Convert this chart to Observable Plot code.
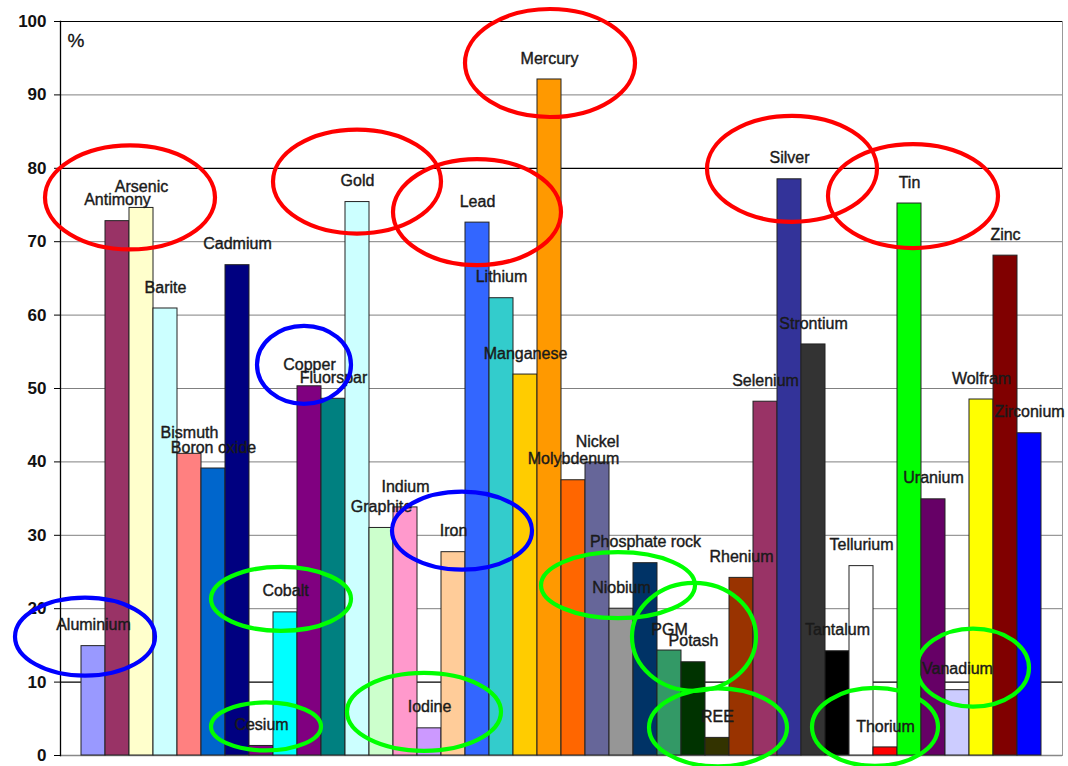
<!DOCTYPE html>
<html>
<head>
<meta charset="utf-8">
<script src="https://cdn.jsdelivr.net/npm/d3@7"></script>
<script src="https://cdn.jsdelivr.net/npm/@observablehq/plot@0.6"></script>
<style>
  body { margin: 0; background: #fff; }
  #chart svg { display: block; }
</style>
</head>
<body>
<div id="chart"></div>
<script>
// ---- data ----
const minerals = ["Aluminium","Antimony","Arsenic","Barite","Bismuth","Boron oxide","Cadmium","Cesium","Cobalt","Copper",
  "Fluorspar","Gold","Graphite","Indium","Iodine","Iron","Lead","Lithium","Manganese","Mercury",
  "Molybdenum","Nickel","Niobium","Phosphate rock","PGM","Potash","REE","Rhenium","Selenium","Silver",
  "Strontium","Tantalum","Tellurium","Thorium","Tin","Uranium","Vanadium","Wolfram","Zinc","Zirconium"];
const shares = [14.9, 72.8, 74.6, 60.9, 41.1, 39.1, 66.8, 1.3, 19.5, 50.3,
  48.6, 75.4, 31.0, 33.8, 3.7, 27.7, 72.6, 62.3, 51.9, 92.1,
  37.5, 39.9, 20.0, 26.2, 14.3, 12.7, 2.4, 24.2, 48.2, 78.5,
  56.0, 14.2, 25.8, 1.1, 75.2, 34.9, 8.9, 48.5, 68.1, 43.9];
const barColors = ["#9999FF","#993366","#FFFFCC","#CCFFFF","#FF8080","#0066CC","#000080","#800080","#00FFFF","#800080",
  "#008080","#CCFFFF","#CCFFCC","#FF99CC","#CC99FF","#FFCC99","#3366FF","#33CCCC","#FFCC00","#FF9900",
  "#FF6600","#666699","#969696","#003366","#339966","#003300","#333300","#993300","#993366","#333399",
  "#333333","#000000","#FFFFFF","#FF0000","#00FF00","#660066","#CCCCFF","#FFFF00","#800000","#0000FF"];
const yTicks = [0, 10, 20, 30, 40, 50, 60, 70, 80, 90, 100];
const greyGrid = [20, 30, 40, 50, 60, 70, 90];
const darkGrid = [10, 80, 100];
const unitLabel = ["%"];
// circled labels (annotation groups)
const redRinged = ["Arsenic","Gold","Lead","Mercury","Silver","Tin"];
const blueRinged = ["Aluminium","Copper","Iron"];
const greenRinged = ["Cesium","Cobalt","Iodine","Niobium","Potash","REE","Thorium","Vanadium"];

const rows = minerals.map((m, i) => ({mineral: m, share: shares[i], color: barColors[i]}));
const shareOf = Object.fromEntries(rows.map(d => [d.mineral, d.share]));

// ellipse layout relative to the circled label (pixels)
const ringLayout = {
  Arsenic:   {dx: -11, dy: 11, rx: 85, ry: 52},
  Gold:      {dx: 0, dy: 1, rx: 84, ry: 52},
  Lead:      {dx: 0, dy: 11, rx: 84, ry: 53},
  Mercury:   {dx: 1, dy: 5, rx: 85, ry: 54},
  Silver:    {dx: 3, dy: 11, rx: 85, ry: 53},
  Tin:       {dx: 4, dy: 14, rx: 85, ry: 52},
  Aluminium: {dx: -8, dy: 12, rx: 70, ry: 39},
  Copper:    {dx: -5, dy: 0, rx: 47, ry: 39},
  Iron:      {dx: 9, dy: 0, rx: 70, ry: 39},
  Cesium:    {dx: 5, dy: 2, rx: 55, ry: 24},
  Cobalt:    {dx: -4, dy: 8, rx: 70, ry: 32},
  Iodine:    {dx: -5, dy: 5, rx: 77, ry: 39},
  Niobium:   {dx: -3, dy: -2, rx: 77, ry: 33},
  Potash:    {dx: 1, dy: -4, rx: 62, ry: 54},
  REE:       {dx: 1, dy: 11, rx: 69, ry: 39},
  Thorium:   {dx: -10, dy: 1, rx: 63, ry: 39},
  Vanadium:  {dx: 16, dy: -1, rx: 56, ry: 39}
};
const labelLift = 21;

const rings = [
  ...redRinged.map(m => ({mineral: m, color: "#FF0000"})),
  ...blueRinged.map(m => ({mineral: m, color: "#0000FF"})),
  ...greenRinged.map(m => ({mineral: m, color: "#00FF00"}))
].map(r => ({...r, share: shareOf[r.mineral]}));

function ringMark(data) {
  return Plot.dot(data, {
    x: "mineral", y: "share",
    render(index, scales, values, dimensions, context) {
      const g = d3.create("svg:g");
      const bw = scales.x.bandwidth ? scales.x.bandwidth() : 0;
      for (const i of index) {
        const d = data[i];
        const L = ringLayout[d.mineral];
        const cx = scales.x(d.mineral) + bw / 2 + L.dx;
        const cy = scales.y(d.share) - labelLift + L.dy;
        g.append("ellipse")
          .attr("cx", cx).attr("cy", cy)
          .attr("rx", L.rx).attr("ry", L.ry)
          .attr("fill", "none")
          .attr("stroke", d.color)
          .attr("stroke-width", 4.2);
      }
      return g.node();
    }
  });
}

const chart = Plot.plot({
  width: 1068,
  height: 766,
  marginTop: 21,
  marginBottom: 11,
  marginLeft: 60,
  marginRight: 6,
  style: {fontFamily: "'Liberation Sans', Arial, sans-serif", background: "#fff"},
  x: {type: "band", domain: minerals, paddingInner: 0, paddingOuter: 0.74, axis: null},
  y: {domain: [0, 100], axis: null},
  color: {type: "identity"},
  marks: [
    Plot.ruleY(greyGrid, {stroke: "#808080", strokeWidth: 1}),
    Plot.ruleY(darkGrid, {stroke: "#000", strokeWidth: 1.2}),
    Plot.ruleY([0], {stroke: "#888", strokeWidth: 1.5}),
    Plot.frame({anchor: "right", stroke: "#999"}),
    Plot.barY(rows, {x: "mineral", y: "share", fill: "color", stroke: "#222", strokeWidth: 1}),
    Plot.frame({anchor: "left", stroke: "#000", strokeWidth: 1.3}),
    Plot.axisY({ticks: yTicks, tickSize: 6, tickPadding: 8, fontSize: 17, fontWeight: "bold",
      label: null, stroke: "#000", color: "#111", tickFormat: d => String(d)}),
    Plot.text(rows, {x: "mineral", y: "share", text: "mineral", dy: -labelLift,
      fontSize: 16, fill: "#1a1a1a", stroke: "#1a1a1a", strokeWidth: 0.4,
      lineAnchor: "middle", textAnchor: "middle"}),
    Plot.text(unitLabel, {frameAnchor: "top-left", text: d => d, dx: 7, dy: 12,
      fontSize: 19, fill: "#111", stroke: "#111", strokeWidth: 0.3, lineAnchor: "top", textAnchor: "start"}),
    ringMark(rings)
  ]
});
document.getElementById("chart").appendChild(chart);
</script>
</body>
</html>
